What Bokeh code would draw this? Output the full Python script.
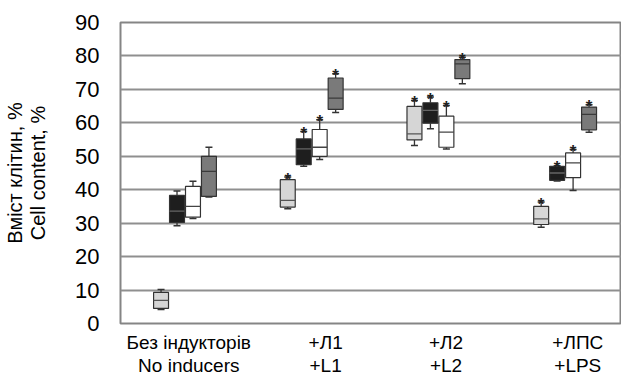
from bokeh.plotting import figure
from bokeh.models import FixedTicker, ColumnDataSource, Range1d
from bokeh.core.properties import value
from bokeh.embed import file_html
from bokeh.resources import INLINE

# ---- data ----
groups = ["Без індукторів\nNo inducers", "+Л1\n+L1", "+Л2\n+L2", "+ЛПС\n+LPS"]
series = ["light", "black", "white", "gray"]

# per series: values for the 4 groups
light_lo  = [4.2, 34.3, 53.2, 28.8]
light_q1  = [4.5, 34.8, 54.9, 29.6]
light_med = [6.9, 36.8, 56.7, 31.3]
light_q3  = [9.3, 43.0, 64.9, 35.0]
light_hi  = [10.2, 43.8, 66.7, 36.3]

black_lo  = [29.2, 47.0, 58.2, 42.6]
black_q1  = [30.2, 47.5, 59.9, 42.8]
black_med = [33.6, 52.2, 63.7, 45.0]
black_q3  = [38.3, 55.2, 66.0, 47.0]
black_hi  = [39.6, 57.4, 67.7, 47.2]

white_lo  = [31.4, 49.0, 52.2, 39.8]
white_q1  = [31.8, 50.0, 52.7, 43.6]
white_med = [35.0, 52.7, 57.2, 48.0]
white_q3  = [41.0, 58.0, 62.0, 51.0]
white_hi  = [42.5, 60.9, 65.2, 52.0]

gray_lo  = [37.8, 63.1, 71.7, 57.2]
gray_q1  = [38.0, 64.0, 73.2, 57.9]
gray_med = [45.5, 67.4, 77.6, 62.5]
gray_q3  = [50.0, 73.4, 78.9, 64.7]
gray_hi  = [52.7, 74.7, 79.6, 65.4]

# significance marks (1 = star) per series, per group
light_sig = [0, 1, 1, 1]
black_sig = [0, 1, 1, 1]
white_sig = [0, 1, 1, 1]
gray_sig  = [0, 1, 1, 1]

y_ticks = [0, 10, 20, 30, 40, 50, 60, 70, 80, 90]

# ---- styling ----
fills = {"light": "#d6d6d6", "black": "#1e1e1e", "white": "#ffffff", "gray": "#7a7a7a"}
median_cols = {"light": "#555555", "black": "#666666", "white": "#444444", "gray": "#3a3a3a"}
step = 0.126
offsets = [-1.5 * step, -0.5 * step, 0.5 * step, 1.5 * step]
box_w = 0.118
label_shift = [0.03, 0.11, 0.06, 0.10]

data = {
    "light": (light_lo, light_q1, light_med, light_q3, light_hi, light_sig),
    "black": (black_lo, black_q1, black_med, black_q3, black_hi, black_sig),
    "white": (white_lo, white_q1, white_med, white_q3, white_hi, white_sig),
    "gray": (gray_lo, gray_q1, gray_med, gray_q3, gray_hi, gray_sig),
}

p = figure(width=621, height=378, output_backend="svg", toolbar_location=None,
           x_range=Range1d(0.491, 4.445), y_range=Range1d(0, 90),
           min_border_left=120, min_border_right=0, min_border_top=22, min_border_bottom=55)

p.outline_line_color = "#858585"
p.outline_line_width = 2
p.xgrid.visible = False
p.ygrid.ticker = FixedTicker(ticks=y_ticks)
p.ygrid.grid_line_color = "#8f8f8f"
p.ygrid.grid_line_width = 2

font = "Liberation Sans"
p.yaxis.ticker = FixedTicker(ticks=y_ticks)
p.yaxis.axis_line_color = None
p.yaxis.major_tick_line_color = None
p.yaxis.minor_tick_line_color = None
p.yaxis.major_label_text_font = font
p.yaxis.major_label_text_font_size = "22px"
p.yaxis.major_label_text_color = "#000000"
p.yaxis.major_label_standoff = 15
p.yaxis.axis_label = "Вміст клітин, %\nCell content, %"
p.yaxis.axis_label_text_font = font
p.yaxis.axis_label_text_font_size = "20px"
p.yaxis.axis_label_text_font_style = "normal"
p.yaxis.axis_label_text_color = "#000000"
p.yaxis.axis_label_text_line_height = 1.05
p.yaxis.axis_label_standoff = 23

xt = [i + 1 + s for i, s in enumerate(label_shift)]
p.xaxis.ticker = FixedTicker(ticks=xt)
p.xaxis.major_label_overrides = {t: g for t, g in zip(xt, groups)}
p.xaxis.axis_line_color = None
p.xaxis.major_tick_line_color = None
p.xaxis.minor_tick_line_color = None
p.xaxis.major_label_text_font = font
p.xaxis.major_label_text_font_size = "19px"
p.xaxis.major_label_text_color = "#000000"
p.xaxis.major_label_text_line_height = 1.1
p.xaxis.major_label_standoff = 2

outline = "#333333"
for k, name in enumerate(series):
    lo, q1, med, q3, hi, sig = data[name]
    xs = [i + 1 + offsets[k] for i in range(len(groups))]
    src = ColumnDataSource(dict(x=xs, lo=lo, q1=q1, med=med, q3=q3, hi=hi,
                                x0=[x - box_w / 2 for x in xs], x1=[x + box_w / 2 for x in xs]))
    # whiskers
    p.segment(x0="x", y0="q3", x1="x", y1="hi", source=src, line_color=outline, line_width=1.3)
    p.segment(x0="x", y0="lo", x1="x", y1="q1", source=src, line_color=outline, line_width=1.3)
    p.scatter(x="x", y="hi", source=src, marker="dash", size=7, line_color=outline, line_width=1.5)
    p.scatter(x="x", y="lo", source=src, marker="dash", size=7, line_color=outline, line_width=1.5)
    # box
    p.vbar(x="x", width=box_w, top="q3", bottom="q1", source=src,
           fill_color=fills[name], line_color=outline, line_width=1.2)
    # median
    p.segment(x0="x0", y0="med", x1="x1", y1="med", source=src,
              line_color=median_cols[name], line_width=1.3)
    # stars
    sx = [x for x, s in zip(xs, sig) if s]
    sy = [h for h, s in zip(hi, sig) if s]
    p.text(x=sx, y=sy, text=["*"] * len(sx), text_font=value(font), text_font_size="17px",
           text_font_style="bold", text_align="center", text_baseline="alphabetic",
           text_color="#222222", y_offset=2)

open("out.html", "w").write(file_html(p, INLINE))
